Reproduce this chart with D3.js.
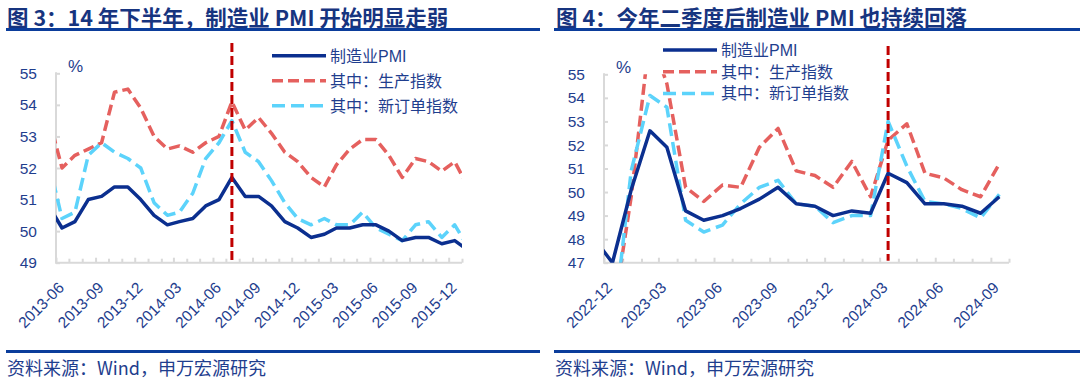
<!DOCTYPE html>
<html><head><meta charset="utf-8">
<script src="https://cdn.jsdelivr.net/npm/d3@7/dist/d3.min.js"></script>
<style>body{margin:0;background:#fff} svg{display:block}</style>
</head><body><svg id="c" width="1080" height="380"></svg>
<script>
// ---------- data ----------
const titles = ["图 3：14 年下半年，制造业 PMI 开始明显走弱", "图 4：今年二季度后制造业 PMI 也持续回落"];
const sourceText = "资料来源：Wind，申万宏源研究";
const seriesNames = ["制造业PMI", "其中：生产指数", "其中：新订单指数"];

const leftMonths = ["2013-05","2013-06","2013-07","2013-08","2013-09","2013-10","2013-11","2013-12",
  "2014-01","2014-02","2014-03","2014-04","2014-05","2014-06","2014-07","2014-08","2014-09","2014-10","2014-11","2014-12",
  "2015-01","2015-02","2015-03","2015-04","2015-05","2015-06","2015-07","2015-08","2015-09","2015-10","2015-11","2015-12","2016-01"];
const leftPMI = [50.8,50.1,50.3,51.0,51.1,51.4,51.4,51.0,
  50.5,50.2,50.3,50.4,50.8,51.0,51.7,51.1,51.1,50.8,50.3,50.1,
  49.8,49.9,50.1,50.1,50.2,50.2,50.0,49.7,49.8,49.8,49.6,49.7,49.4];
const leftProd = [53.6,52.0,52.4,52.6,52.8,54.4,54.5,53.9,
  53.0,52.6,52.7,52.5,52.8,53.0,54.1,53.2,53.6,53.1,52.5,52.2,
  51.7,51.4,52.1,52.6,52.9,52.9,52.4,51.7,52.3,52.2,51.9,52.2,51.4];
const leftOrders = [52.2,50.4,50.6,52.4,52.8,52.5,52.3,52.0,
  50.9,50.5,50.6,51.2,52.3,52.8,53.5,52.5,52.2,51.6,50.9,50.4,
  50.2,50.4,50.2,50.2,50.6,50.1,49.9,49.7,50.2,50.3,49.8,50.2,49.5];
const leftYTicks = [49,50,51,52,53,54,55];
const leftAxisRange = ["2013-06","2016-01"];
const leftLabelMonths = ["2013-06","2013-09","2013-12","2014-03","2014-06","2014-09","2014-12","2015-03","2015-06","2015-09","2015-12"];
const leftMark = "2014-07";

const rightMonths = ["2022-11","2022-12","2023-01","2023-02","2023-03","2023-04","2023-05","2023-06","2023-07","2023-08","2023-09","2023-10","2023-11","2023-12",
  "2024-01","2024-02","2024-03","2024-04","2024-05","2024-06","2024-07","2024-08","2024-09"];
const rightPMI = [48.0,47.0,50.1,52.6,51.9,49.2,48.8,49.0,49.3,49.7,50.2,49.5,49.4,49.0,
  49.2,49.1,50.8,50.4,49.5,49.5,49.4,49.1,49.8];
const rightProd = [47.8,44.6,49.8,56.7,54.6,50.2,49.6,50.3,50.2,51.9,52.7,50.9,50.7,50.2,
  51.3,49.8,52.2,52.9,50.8,50.6,50.1,49.8,51.2];
const rightOrders = [46.4,43.9,50.9,54.1,53.6,48.8,48.3,48.6,49.5,50.2,50.5,49.5,49.4,48.7,
  49.0,49.0,53.0,51.1,49.6,49.5,49.3,48.9,49.9];
const rightYTicks = [47,48,49,50,51,52,53,54,55];
const rightAxisRange = ["2022-12","2024-10"];
const rightLabelMonths = ["2022-12","2023-03","2023-06","2023-09","2023-12","2024-03","2024-06","2024-09"];
const rightMark = "2024-03";

// ---------- style ----------
const C_TEXT = "#1F3E8E", C_TITLE = "#17347F", C_RULE = "#0B3D9B", C_AXIS = "#D9D9D9";
const C_PMI = "#0B2F8F", C_PROD = "#E5605E", C_ORD = "#5CD3FB", C_MARK = "#C00000";
const LATIN = "'Liberation Sans', Arial, 'Noto Sans CJK SC', sans-serif";
const CJK = "'Noto Sans CJK SC', 'Liberation Sans', sans-serif";

const svg = d3.select("#c");
svg.append("rect").attr("width",1080).attr("height",380).attr("fill","#fff");

const parseM = d3.timeParse("%Y-%m");
const midMonth = m => d3.timeDay.offset(parseM(m), 14);
const fmt = d3.timeFormat("%Y-%m");

function panel(cfg, idx){
  const g = svg.append("g");
  // title
  g.append("text").attr("x", cfg.titleX).attr("y", 25.5)
    .attr("font-family", CJK).attr("font-weight", "bold").attr("font-size", 21.5)
    .attr("fill", C_TITLE).text(cfg.title);
  g.append("line").attr("x1", cfg.ruleX0).attr("x2", cfg.ruleX1).attr("y1", 29.5).attr("y2", 29.5)
    .attr("stroke", C_RULE).attr("stroke-width", 3);
  g.append("line").attr("x1", cfg.ruleX0).attr("x2", cfg.ruleX1).attr("y1", 351.5).attr("y2", 351.5)
    .attr("stroke", C_RULE).attr("stroke-width", 3);
  g.append("text").attr("x", cfg.ruleX0 + 1).attr("y", 374.5)
    .attr("font-family", CJK).attr("font-size", 18).attr("fill", C_TEXT).text(sourceText);

  const x = d3.scaleTime().domain(cfg.axisRange.map(parseM)).range([cfg.x0, cfg.x1]);
  const y = d3.scaleLinear().domain([cfg.yTicks[0], cfg.yTicks[cfg.yTicks.length-1]]).range([cfg.yb, cfg.yt]);

  // y axis
  const ya = g.append("g").attr("transform", `translate(${cfg.x0},0)`)
    .call(d3.axisRight(y).tickValues(cfg.yTicks).tickSize(4).tickFormat(""));
  ya.select(".domain").remove();
  ya.selectAll(".tick line").attr("stroke", C_AXIS).attr("stroke-width", 2);
  g.append("line").attr("x1", cfg.x0).attr("x2", cfg.x0).attr("y1", cfg.yt - 1).attr("y2", cfg.yb)
    .attr("stroke", C_AXIS).attr("stroke-width", 2);
  g.selectAll(".ylab").data(cfg.yTicks).enter().append("text")
    .attr("x", cfg.x0 - 19).attr("y", d => y(d)).attr("dy", "0.36em")
    .attr("text-anchor", "end").attr("font-family", LATIN).attr("font-size", 15.5)
    .attr("fill", C_TEXT).text(d => d);
  g.append("text").attr("x", cfg.x0 + 12).attr("y", cfg.yt - 1)
    .attr("font-family", LATIN).attr("font-size", 17).attr("fill", C_TEXT).text("%");

  // x axis
  const allTicks = d3.timeMonth.range(x.domain()[0], d3.timeDay.offset(x.domain()[1], 1));
  const labelSet = new Set(cfg.labelMonths);
  const xa = g.append("g").attr("transform", `translate(0,${cfg.yb})`)
    .call(d3.axisTop(x).tickValues(allTicks).tickSize(4).tickFormat(""));
  xa.select(".domain").remove();
  xa.selectAll(".tick line").attr("stroke", C_AXIS).attr("stroke-width", 2)
    .attr("y2", d => labelSet.has(fmt(d)) ? -5 : -4);
  g.append("line").attr("x1", cfg.x0 - 1).attr("x2", cfg.x1).attr("y1", cfg.yb).attr("y2", cfg.yb)
    .attr("stroke", C_AXIS).attr("stroke-width", 2);
  g.selectAll(".xlab").data(cfg.labelMonths).enter().append("text")
    .attr("transform", d => `translate(${x(parseM(d)) + 9},${cfg.yb + 26}) rotate(-45)`)
    .attr("text-anchor", "end").attr("font-family", LATIN).attr("font-size", 15.5)
    .attr("fill", C_TEXT).text(d => d);

  // clip
  const cid = "clip" + idx;
  svg.append("clipPath").attr("id", cid).append("rect")
    .attr("x", cfg.x0).attr("y", cfg.yt).attr("width", cfg.x1 - cfg.x0).attr("height", cfg.yb - cfg.yt);

  const series = [
    {vals: cfg.prod, color: C_PROD, dash: "11,5", w: 3.5},
    {vals: cfg.orders, color: C_ORD, dash: "13,6", w: 3.5},
    {vals: cfg.pmi, color: C_PMI, dash: null, w: 3.5}
  ];
  const line = d3.line().x(d => x(midMonth(d.m))).y(d => y(d.v));
  const lg = g.append("g").attr("clip-path", `url(#${cid})`);
  series.forEach(s => {
    const pts = cfg.months.map((m, i) => ({m, v: s.vals[i]}));
    lg.append("path").attr("d", line(pts)).attr("fill", "none")
      .attr("stroke", s.color).attr("stroke-width", s.w)
      .attr("stroke-dasharray", s.dash).attr("stroke-linejoin", "round");
  });

  // marker
  const mx = x(midMonth(cfg.mark));
  g.append("line").attr("x1", mx).attr("x2", mx).attr("y1", cfg.markTop).attr("y2", cfg.yb - 2)
    .attr("stroke", C_MARK).attr("stroke-width", 3).attr("stroke-dasharray", "9,4");

  // legend
  const leg = [
    {name: seriesNames[0], color: C_PMI, dash: null},
    {name: seriesNames[1], color: C_PROD, dash: "11,5"},
    {name: seriesNames[2], color: C_ORD, dash: "13,6"}
  ];
  leg.forEach((l, i) => {
    const ly = cfg.legY + i * cfg.legStep;
    g.append("line").attr("x1", cfg.legX).attr("x2", cfg.legX + 54).attr("y1", ly).attr("y2", ly)
      .attr("stroke", l.color).attr("stroke-width", 3.5).attr("stroke-dasharray", l.dash);
    g.append("text").attr("x", cfg.legX + 58).attr("y", ly + 6)
      .attr("font-family", LATIN).attr("font-size", 16).attr("fill", C_TEXT).text(l.name);
  });
}

panel({title: titles[0], titleX: 7, ruleX0: 6, ruleX1: 540,
  axisRange: leftAxisRange, x0: 56, x1: 462, yt: 73.3, yb: 262.7, yTicks: leftYTicks,
  labelMonths: leftLabelMonths, months: leftMonths, pmi: leftPMI, prod: leftProd, orders: leftOrders,
  mark: leftMark, markTop: 43, legX: 272, legY: 55.7, legStep: 25}, 0);

panel({title: titles[1], titleX: 556, ruleX0: 554, ruleX1: 1080,
  axisRange: rightAxisRange, x0: 604, x1: 1009, yt: 74.3, yb: 262.7, yTicks: rightYTicks,
  labelMonths: rightLabelMonths, months: rightMonths, pmi: rightPMI, prod: rightProd, orders: rightOrders,
  mark: rightMark, markTop: 46, legX: 663, legY: 50, legStep: 21.7}, 1);
</script>
</body></html>
